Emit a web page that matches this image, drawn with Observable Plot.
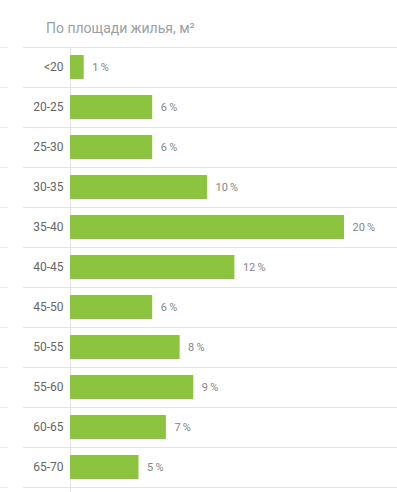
<!DOCTYPE html>
<html><head><meta charset="utf-8">
<script src="https://cdn.jsdelivr.net/npm/d3@7"></script>
<script src="https://cdn.jsdelivr.net/npm/@observablehq/plot@0.6"></script>
<style>
body{margin:0;background:#fff;font-family:Roboto,"Noto Sans",sans-serif;}
#title{height:47px;box-sizing:border-box;padding:19px 0 0 46px;font-size:14px;line-height:18px;color:#9aa0a5;}
svg{display:block;}
</style></head>
<body>
<div id="title">По площади жилья, м²</div>
<div id="chart"></div>
<script>
const categories = ["<20","20-25","25-30","30-35","35-40","40-45","45-50","50-55","55-60","60-65","65-70"];
const values = [1,6,6,10,20,12,6,8,9,7,5];
const data = categories.map((c,i)=>({cat:c, v:values[i]}));
const last = [categories[categories.length-1]];
const gridColor = "#e4e4e4";
const chart = Plot.plot({
  width: 397, height: 445,
  marginLeft: 70, marginRight: 53, marginTop: 0, marginBottom: 5,
  style: {fontFamily: "Roboto, 'Noto Sans', sans-serif", background: "#fff"},
  x: {domain: [0, 20], axis: null},
  y: {domain: categories, paddingInner: 0.4, paddingOuter: 0.2, label: null, axis: null},
  marks: [
    Plot.ruleY(categories, {y: d=>d, dy: -20, stroke: gridColor, insetLeft: -47, insetRight: -53}),
    Plot.ruleY(last, {y: d=>d, dy: 20, stroke: gridColor, insetLeft: -47, insetRight: -53}),
    Plot.ruleY(categories, {y: d=>d, dy: -20, stroke: "#ececec", insetLeft: -70, insetRight: 336}),
    Plot.ruleY(last, {y: d=>d, dy: 20, stroke: "#ececec", insetLeft: -70, insetRight: 336}),
    Plot.ruleX([0], {stroke: gridColor, insetTop: 0, insetBottom: -5}),
    Plot.barX(data, {x: "v", y: "cat", fill: "#8cc43f"}),
    Plot.text(data, {x: "v", y: "cat", text: d => d.v + "\u2009%", textAnchor: "start", dx: 8, fill: "#858585", fontSize: 11}),
    Plot.axisY({tickSize: 0, tickPadding: 7, fontSize: 12, fill: "#666", label: null})
  ]
});
document.getElementById("chart").appendChild(chart);
</script>
</body></html>
